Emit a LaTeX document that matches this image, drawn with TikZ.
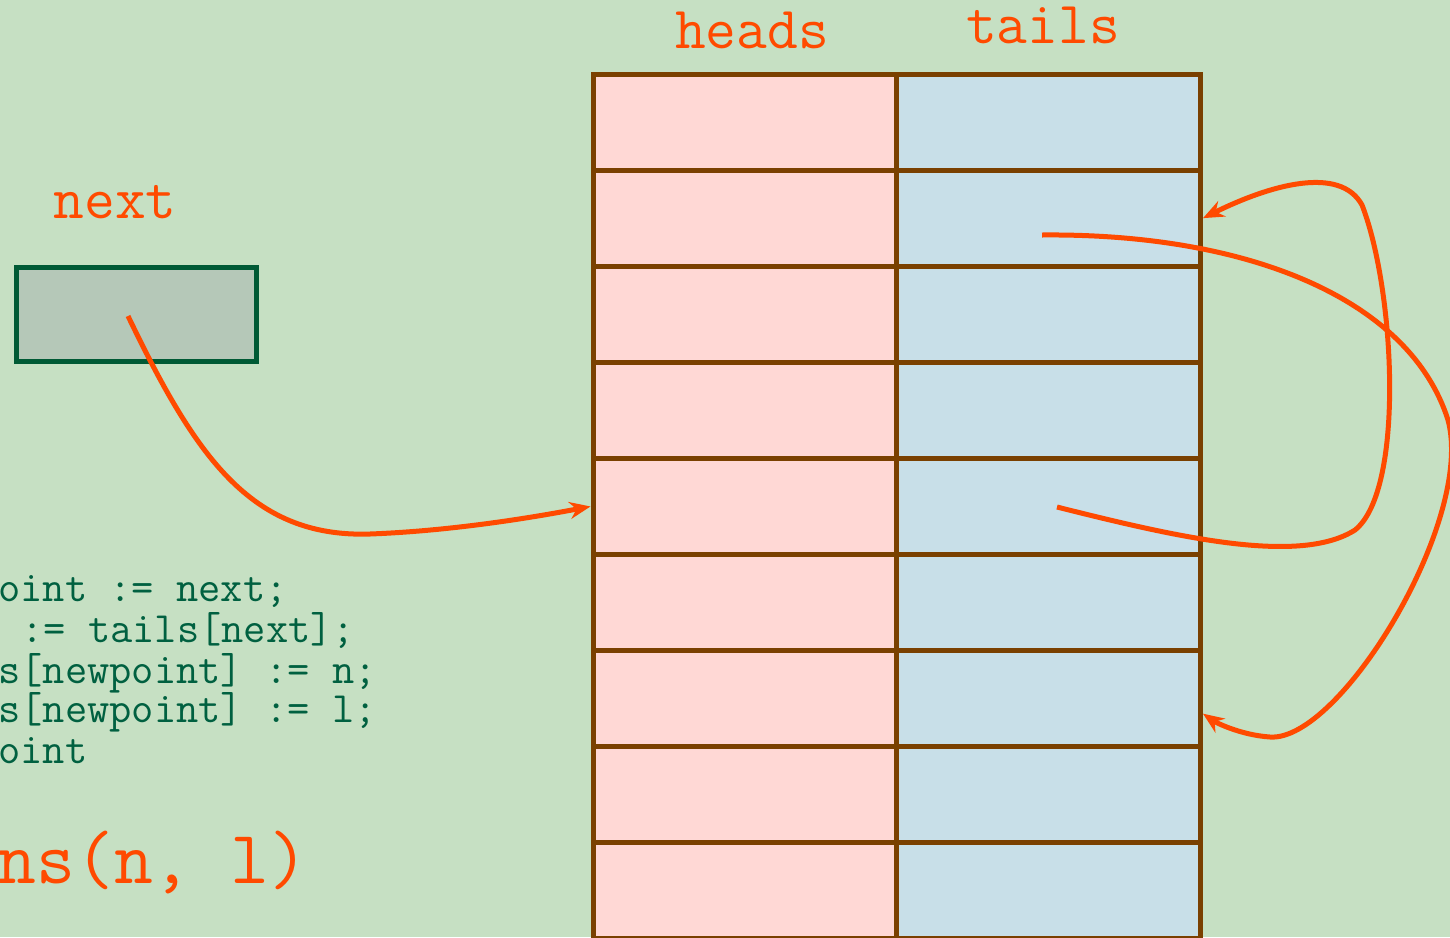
\documentclass[tikz,border=0pt]{standalone}
\usepackage{fontspec}
\usetikzlibrary{arrows.meta}
\definecolor{bg}{HTML}{C6E0C3}
\definecolor{ptrc}{HTML}{FF4A00}
\definecolor{headc}{HTML}{FFD8D5}
\definecolor{tailc}{HTML}{C8DFE8}
\definecolor{cellb}{HTML}{7A4000}
\definecolor{boxb}{HTML}{005A35}
\definecolor{boxf}{HTML}{B5C8B8}
\definecolor{codec}{HTML}{006040}
\tikzset{
  cell/.style={draw=cellb, line width=0.1cm, inner sep=0pt, minimum width=6.08cm, minimum height=1.922cm},
  hcell/.style={cell, fill=headc},
  tcell/.style={cell, fill=tailc},
  lbl/.style={text=ptrc, font=\ttfamily\fontsize{34}{34}\selectfont, inner sep=0pt},
  code/.style={text=codec, font=\ttfamily\fontsize{24.6}{24.6}\selectfont, inner sep=0pt, anchor=base west},
  ptr/.style={draw=ptrc, line width=0.1cm, -{Stealth[length=0.42cm,width=0.34cm]}},
}
\begin{document}
\begin{tikzpicture}[x=0.02cm,y=-0.02cm]
\useasboundingbox (0,0) rectangle (1450,937);
\clip (0,0) rectangle (1450,937);
\fill[bg] (0,0) rectangle (1450,937);
% table
\foreach \i in {1,...,9} {
  \pgfmathsetmacro{\yy}{74+96.1*(\i-0.5)}
  \node[hcell] (h\i) at (745,\yy) {};
  \node[tcell] (t\i) at (1048.5,\yy) {};
}
\node[lbl, anchor=base] (lh) at (752,48) {heads};
\node[lbl, anchor=base] (lt) at (1043,43) {tails};
% next variable
\node[lbl, anchor=base] (ln) at (115,218) {next};
\node[draw=boxb, fill=boxf, line width=0.1cm, minimum width=4.82cm, minimum height=1.9cm, inner sep=0pt] (nb) at (136.5,314.5) {};
% code
\node[code] (c1) at (-2,601) {oint := next;};
\node[code] (c2) at (21,642) {:= tails[next];};
\node[code] (c3) at (-2,683) {s[newpoint] := n;};
\node[code] (c4) at (-2,722) {s[newpoint] := l;};
\node[code] (c5) at (-2,763) {oint};
\node[text=ptrc, font=\ttfamily\fontsize{43}{43}\selectfont, inner sep=0pt, anchor=base west] (call) at (-3,883) {ns(n, l)};
% pointers
\coordinate (s1) at (128,316);
\coordinate (s2) at (1042,235);
\coordinate (s3) at (1057,507);
\draw[ptr] (s1) .. controls (195,455) and (250,538) .. (370,534) .. controls (450,531) and (530,518) .. (h5.west);
\draw[ptr] (s2) .. controls (1250,233) and (1410,300) .. (1448,420) .. controls (1475,520) and (1340,742) .. (1270,737) .. controls (1240,735) and (1215,722) .. ([yshift=-0.3cm]t7.east);
\draw[ptr] (s3) .. controls (1180,538) and (1300,565) .. (1355,530) .. controls (1405,490) and (1395,290) .. (1362,205) .. controls (1340,165) and (1270,185) .. (t2.east);
\end{tikzpicture}
\end{document}
